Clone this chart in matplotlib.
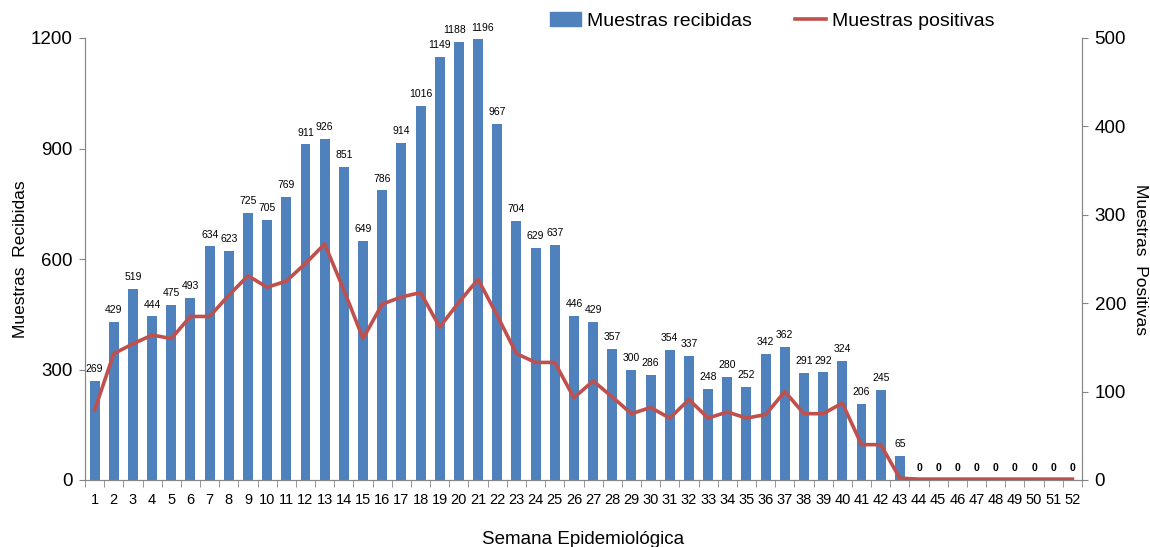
import matplotlib.pyplot as plt
import numpy as np
from matplotlib.patches import Patch
from matplotlib.lines import Line2D

plt.rcParams['font.family'] = ['Liberation Sans', 'DejaVu Sans']

weeks = list(range(1, 53))
recibidas = [269, 429, 519, 444, 475, 493, 634, 623, 725, 705,
             769, 911, 926, 851, 649, 786, 914, 1016, 1149, 1188,
             1196, 967, 704, 629, 637, 446, 429, 357, 300, 286,
             354, 337, 248, 280, 252, 342, 362, 291, 292, 324,
             206, 245, 65, 0, 0, 0, 0, 0, 0, 0, 0, 0]
positivas = [79, 143, 154, 164, 160, 185, 185, 209, 231, 218,
             225, 245, 267, 215, 160, 199, 207, 212, 173, 201,
             227, 186, 143, 133, 133, 93, 112, 94, 75, 82,
             70, 91, 70, 77, 70, 74, 100, 75, 75, 87,
             40, 40, 2, 1, 1, 1, 1, 1, 1, 1, 1, 1]

BLUE = '#4F81BD'
RED = '#C0504D'
GRAY = '#868686'

fig = plt.figure(figsize=(11.5, 5.47), dpi=100)
ax = fig.add_axes([85 / 1150, 1 - 480 / 547, 997 / 1150, 442 / 547])
ax2 = ax.twinx()

x = np.array(weeks)
ax.bar(x, recibidas, width=0.52, color=BLUE, zorder=2)
# crowded labels near the peak get nudged sideways like in the original
nudge = {20: -3, 21: 3}
for xi, v in zip(x, recibidas):
    ax.annotate(str(v), (xi, v), xytext=(nudge.get(xi, 0), 5), textcoords='offset points',
                ha='center', va='bottom', fontsize=7.5,
                fontweight='bold' if v == 0 else 'normal')

ax2.plot(x, positivas, color=RED, lw=2.6, zorder=3)

ax.set_xlim(0.5, 52.5)
ax.set_ylim(0, 1200)
ax2.set_ylim(0, 500)
ax.set_yticks([0, 300, 600, 900, 1200])
ax2.set_yticks([0, 100, 200, 300, 400, 500])
ax.set_xticks(x)
ax.set_xticklabels([str(w) for w in weeks], fontsize=10.5)
ax.set_xticks(np.arange(0.5, 53, 1), minor=True)
ax.tick_params(axis='x', which='major', length=0, pad=9)
ax.tick_params(axis='x', which='minor', length=5, color=GRAY, direction='out')
ax.tick_params(axis='y', length=4, color=GRAY, labelsize=13.5, pad=5)
ax2.tick_params(axis='y', length=4, color=GRAY, labelsize=13.5, pad=5)

for a in (ax, ax2):
    a.spines['top'].set_visible(False)
    for s in ('left', 'right', 'bottom'):
        a.spines[s].set_color(GRAY)

ax.set_ylabel('Muestras  Recibidas', fontsize=12.5, labelpad=2)
ax2.set_ylabel('Muestras  Positivas', fontsize=12.5, rotation=-90, labelpad=16)
ax.set_xlabel('Semana Epidemiológica', fontsize=13.5, labelpad=18)

handles = [Patch(color=BLUE, label='Muestras recibidas'),
           Line2D([], [], color=RED, lw=2.6, label='Muestras positivas')]
fig.legend(handles=handles, loc='center', bbox_to_anchor=(772 / 1150, 1 - 21 / 547),
           ncol=2, frameon=False, fontsize=14, handlelength=1.6,
           columnspacing=2.2, handletextpad=0.3)

fig.savefig('out.png', dpi=100)
